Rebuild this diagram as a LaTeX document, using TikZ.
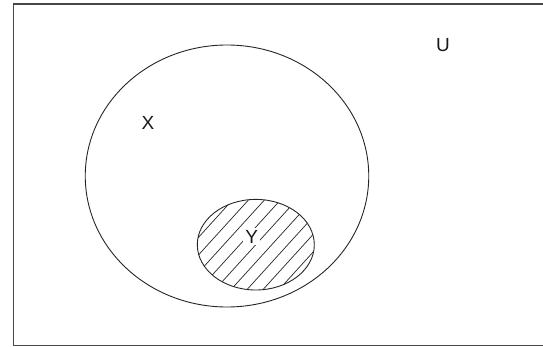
\documentclass[tikz,border=0pt]{standalone}
\usepackage{fontspec}
\setmainfont{Liberation Sans}
\usetikzlibrary{shapes.geometric}
\begin{document}
\begin{tikzpicture}[x=1pt,y=-1pt,
  lab/.style={font=\fontsize{19}{19}\selectfont, inner sep=1pt, text=black!90},
  setline/.style={draw=black!85, line width=0.9pt},
  hatch/.style={draw=black!85, line width=0.7pt}]
\useasboundingbox (0,0) rectangle (543,347);
\begin{scope}
  \clip (0,0) rectangle (543,347);
  \draw[line width=1.8pt, draw=black!72] (13.5,4.3) rectangle (600,345.5);
\end{scope}
% set X
\node[setline, ellipse, inner sep=0pt, minimum width=283.5pt, minimum height=262pt] (X) at (227,176) {};
% set Y with hatching
\begin{scope}
  \clip (255.8,244.7) ellipse [x radius=58.5, y radius=45.3];
  \foreach \i in {-160,-144,...,160}
    \draw[hatch] (255.8+\i-60,244.7+66) -- (255.8+\i+60,244.7-66);
\end{scope}
\node[setline, ellipse, inner sep=0pt, minimum width=117pt, minimum height=90.6pt] (Y) at (255.8,244.7) {};
\node[lab, fill=white, inner sep=2pt] (ylab) at (251.7,236.7) {Y};
\node[lab] (xlab) at (148,123) {X};
\node[lab] (ulab) at (443,45) {U};
\end{tikzpicture}
\end{document}
